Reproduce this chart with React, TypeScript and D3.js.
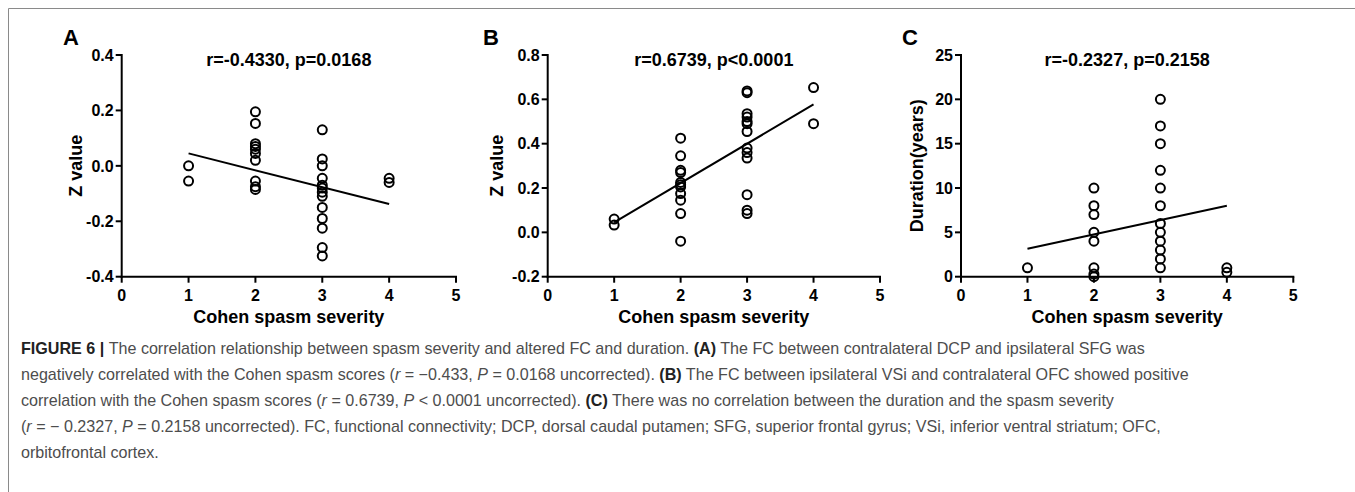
import React from 'react';
import * as d3 from 'd3';

// ---------- data ----------
const severityTicks = [0, 1, 2, 3, 4, 5];

const aSeverity = [1, 1, 2, 2, 2, 2, 2, 2, 2, 2, 2, 2, 3, 3, 3, 3, 3, 3, 3, 3, 3, 3, 3, 3, 3, 4, 4];
const aZ = [0.0, -0.055, 0.195, 0.153, 0.08, 0.07, 0.06, 0.045, 0.02, -0.055, -0.075, -0.085,
  0.13, 0.025, 0.0, -0.045, -0.07, -0.08, -0.095, -0.11, -0.15, -0.19, -0.225, -0.295, -0.325, -0.045, -0.06];
const aFitX = [1, 4];
const aFitY = [0.045, -0.138];
const aTicks = [-0.4, -0.2, 0, 0.2, 0.4];

const bSeverity = [1, 1, 2, 2, 2, 2, 2, 2, 2, 2, 2, 2, 2, 3, 3, 3, 3, 3, 3, 3, 3, 3, 3, 3, 3, 3, 4, 4];
const bZ = [0.06, 0.033, 0.425, 0.345, 0.28, 0.27, 0.225, 0.215, 0.205, 0.175, 0.145, 0.085, -0.04,
  0.638, 0.63, 0.535, 0.52, 0.5, 0.49, 0.455, 0.38, 0.36, 0.335, 0.17, 0.1, 0.085, 0.653, 0.49];
const bFitX = [1, 4];
const bFitY = [0.045, 0.577];
const bTicks = [-0.2, 0, 0.2, 0.4, 0.6, 0.8];

const cSeverity = [1, 2, 2, 2, 2, 2, 2, 2, 2, 3, 3, 3, 3, 3, 3, 3, 3, 3, 3, 3, 3, 4, 4];
const cDuration = [1, 10, 8, 7, 5, 4, 1, 0.3, 0, 20, 17, 15, 12, 10, 8, 6, 5, 4, 3, 2, 1, 1, 0.5];
const cFitX = [1, 4];
const cFitY = [3.15, 8.0];
const cTicks = [0, 5, 10, 15, 20, 25];

const panelLetters = ['A', 'B', 'C'];
const statTitles = ['r=-0.4330, p=0.0168', 'r=0.6739, p<0.0001', 'r=-0.2327, p=0.2158'];
const yTitles = ['Z value', 'Z value', 'Duration(years)'];
const xTitle = 'Cohen spasm severity';

type Seg = [string, string?];
const captionLines: Seg[][] = [
  [['FIGURE 6 | ', 'b'], ['The correlation relationship between spasm severity and altered FC and duration. '], ['(A)', 'b'], [' The FC between contralateral DCP and ipsilateral SFG was']],
  [['negatively correlated with the Cohen spasm scores ('], ['r', 'i'], [' = \u22120.433, '], ['P', 'i'], [' = 0.0168 uncorrected). '], ['(B)', 'b'], [' The FC between ipsilateral VSi and contralateral OFC showed positive']],
  [['correlation with the Cohen spasm scores ('], ['r', 'i'], [' = 0.6739, '], ['P', 'i'], [' < 0.0001 uncorrected). '], ['(C)', 'b'], [' There was no correlation between the duration and the spasm severity']],
  [['('], ['r', 'i'], [' = \u2212 0.2327, '], ['P', 'i'], [' = 0.2158 uncorrected). FC, functional connectivity; DCP, dorsal caudal putamen; SFG, superior frontal gyrus; VSi, inferior ventral striatum; OFC,']],
  [['orbitofrontal cortex.']],
];

// ---------- layout ----------
const W = 1355;
const H = 492;
const FONT = 'Liberation Sans, Arial, sans-serif';
const yTop = 55;
const yBottom = 276.7;

interface PanelProps {
  x0: number; x1: number;
  yDomain: [number, number];
  yTicks: number[];
  fmt: (v: number) => string;
  xs: number[]; ys: number[];
  fitX: number[]; fitY: number[];
  letter: string; title: string; yTitle: string;
  letterX: number; yTitleX: number;
}

function Panel(p: PanelProps) {
  const x = d3.scaleLinear().domain([0, 5]).range([p.x0, p.x1]);
  const y = d3.scaleLinear().domain(p.yDomain).range([yBottom, yTop]);
  const line = d3.line<number>().x((_, i) => x(p.fitX[i])).y((d) => y(d));
  const cx = (p.x0 + p.x1) / 2;
  const cy = (yTop + yBottom) / 2;
  return (
    <g fontFamily={FONT} fill="#000">
      <text x={p.letterX} y={45} fontSize={22} fontWeight="bold">{p.letter}</text>
      <text x={cx} y={66} fontSize={18} fontWeight="bold" textAnchor="middle">{p.title}</text>
      {/* y axis */}
      <line x1={p.x0} x2={p.x0} y1={y(p.yDomain[1]) - 1} y2={yBottom + 1} stroke="#000" strokeWidth={2} />
      {p.yTicks.map((t) => (
        <g key={'y' + t}>
          <line x1={p.x0 - 6} x2={p.x0} y1={y(t)} y2={y(t)} stroke="#000" strokeWidth={2} />
          <text x={p.x0 - 8} y={y(t)} dy="0.36em" fontSize={16} fontWeight="bold" textAnchor="end">{p.fmt(t)}</text>
        </g>
      ))}
      {/* x axis */}
      <line x1={p.x0 - 1} x2={p.x1 + 1} y1={yBottom} y2={yBottom} stroke="#000" strokeWidth={2} />
      {severityTicks.map((t) => (
        <g key={'x' + t}>
          <line x1={x(t)} x2={x(t)} y1={yBottom} y2={yBottom + 6} stroke="#000" strokeWidth={2} />
          <text x={x(t)} y={301} fontSize={16} fontWeight="bold" textAnchor="middle">{t}</text>
        </g>
      ))}
      <text x={cx} y={323} fontSize={18} fontWeight="bold" textAnchor="middle">{xTitle}</text>
      <text transform={`translate(${p.yTitleX},${cy}) rotate(-90)`} fontSize={18} fontWeight="bold" textAnchor="middle">{p.yTitle}</text>
      {/* fit line */}
      <path d={line(p.fitY) || ''} fill="none" stroke="#000" strokeWidth={2} />
      {/* points */}
      {p.xs.map((v, i) => (
        <circle key={i} cx={x(v)} cy={y(p.ys[i])} r={4.5} fill="none" stroke="#000" strokeWidth={2} />
      ))}
    </g>
  );
}

export default function App() {
  const f1 = (v: number) => v.toFixed(1);
  const f0 = (v: number) => String(v);
  return (
    <svg width={W} height={H} style={{ position: 'absolute', left: 0, top: 0, background: '#fff' }}>
      <rect x={0} y={0} width={W} height={H} fill="#fff" />
      <line x1={8.5} x2={W} y1={8.5} y2={8.5} stroke="#8a8a8a" strokeWidth={1} />
      <line x1={8.5} x2={8.5} y1={8.5} y2={H} stroke="#8a8a8a" strokeWidth={1} />
      <Panel x0={121.7} x1={456} yDomain={[-0.4, 0.4]} yTicks={aTicks} fmt={f1}
        xs={aSeverity} ys={aZ} fitX={aFitX} fitY={aFitY}
        letter={panelLetters[0]} title={statTitles[0]} yTitle={yTitles[0]} letterX={63} yTitleX={82} />
      <Panel x0={547.7} x1={880} yDomain={[-0.2, 0.8]} yTicks={bTicks} fmt={f1}
        xs={bSeverity} ys={bZ} fitX={bFitX} fitY={bFitY}
        letter={panelLetters[1]} title={statTitles[1]} yTitle={yTitles[1]} letterX={483} yTitleX={503} />
      <Panel x0={961} x1={1293.3} yDomain={[0, 25]} yTicks={cTicks} fmt={f0}
        xs={cSeverity} ys={cDuration} fitX={cFitX} fitY={cFitY}
        letter={panelLetters[2]} title={statTitles[2]} yTitle={yTitles[2]} letterX={902} yTitleX={923} />
      <g fontFamily={FONT} fontSize={16.1} fill="#4d4d4d">
        {captionLines.map((segs, li) => (
          <text key={li} x={21} y={354 + li * 26}>
            {segs.map(([t, s], si) => (
              <tspan key={si} fontWeight={s === 'b' ? 'bold' : 'normal'} fontStyle={s === 'i' ? 'italic' : 'normal'}
                fill={s === 'b' ? '#222' : '#4d4d4d'}>{t}</tspan>
            ))}
          </text>
        ))}
      </g>
    </svg>
  );
}
